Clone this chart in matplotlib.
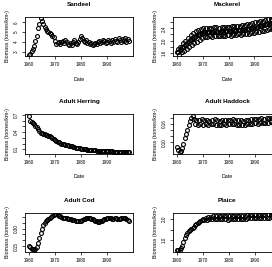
import matplotlib
matplotlib.use('Agg')
import matplotlib.pyplot as plt
import numpy as np

# ---- data ----
# half-year series, 1960.0 ... 1998.5
SANDEEL = [2.7, 2.8, 3.1, 3.3, 3.6, 4.1, 4.6, 5.4, 5.8, 6.4,
           6.1, 5.8, 5.5, 5.3, 5.1, 5.0, 4.9, 4.8, 4.6, 4.5,
           4.1, 3.8, 3.9, 4.0, 3.8, 4.0, 4.1, 3.9, 4.2, 4.0,
           3.8, 3.7, 3.9, 3.7, 4.0, 4.2, 3.9, 3.8, 4.0, 4.3,
           4.6, 4.4, 4.1, 4.0, 4.2, 3.9, 4.0, 3.8, 3.9, 3.7,
           3.8, 3.9, 3.8, 4.0, 4.1, 3.9, 4.0, 4.2, 4.1, 3.9,
           4.0, 4.2, 4.1, 3.9, 4.2, 4.0, 4.3, 4.1, 4.0, 4.4,
           4.2, 4.0, 4.3, 4.1, 4.4, 4.0, 4.3, 4.1]

HERRING = [0.68, 0.60, 0.57, 0.55, 0.54, 0.51, 0.49, 0.46, 0.42, 0.39,
           0.38, 0.36, 0.37, 0.35, 0.35, 0.33, 0.33, 0.31, 0.30, 0.28,
           0.26, 0.24, 0.23, 0.22, 0.21, 0.20, 0.195, 0.19, 0.18, 0.175,
           0.17, 0.165, 0.155, 0.15, 0.145, 0.14, 0.13, 0.125, 0.12, 0.115,
           0.11, 0.108, 0.105, 0.10, 0.098, 0.095, 0.093, 0.09, 0.088, 0.085,
           0.083, 0.081, 0.079, 0.077, 0.075, 0.073, 0.072, 0.070, 0.069, 0.068,
           0.066, 0.065, 0.064, 0.063, 0.062, 0.061, 0.060, 0.059, 0.058, 0.057,
           0.057, 0.056, 0.055, 0.055, 0.054, 0.053, 0.053, 0.052]

HADDOCK = [0.085, 0.075, 0.068, 0.072, 0.080, 0.095, 0.115, 0.128, 0.140, 0.155,
           0.170, 0.178, 0.186, 0.176, 0.160, 0.172, 0.158, 0.174, 0.160, 0.175,
           0.158, 0.172, 0.160, 0.174, 0.157, 0.171, 0.159, 0.173, 0.161, 0.175,
           0.158, 0.172, 0.156, 0.170, 0.158, 0.173, 0.160, 0.174, 0.157, 0.172,
           0.159, 0.174, 0.161, 0.175, 0.159, 0.173, 0.157, 0.172, 0.158, 0.173,
           0.156, 0.171, 0.158, 0.172, 0.160, 0.174, 0.159, 0.175, 0.161, 0.176,
           0.162, 0.177, 0.161, 0.176, 0.163, 0.178, 0.164, 0.177, 0.162, 0.178,
           0.164, 0.179, 0.165, 0.178, 0.163, 0.179, 0.165, 0.180]

COD = [0.155, 0.145, 0.130, 0.125, 0.118, 0.125, 0.140, 0.175, 0.220, 0.265,
       0.300, 0.330, 0.350, 0.365, 0.375, 0.383, 0.390, 0.398, 0.408, 0.415,
       0.420, 0.424, 0.418, 0.410, 0.403, 0.398, 0.393, 0.390, 0.388, 0.386,
       0.385, 0.383, 0.380, 0.376, 0.373, 0.370, 0.368, 0.366, 0.365, 0.366,
       0.368, 0.372, 0.377, 0.382, 0.386, 0.389, 0.390, 0.388, 0.384, 0.378,
       0.372, 0.367, 0.362, 0.359, 0.358, 0.360, 0.364, 0.370, 0.377, 0.383,
       0.387, 0.390, 0.389, 0.387, 0.384, 0.385, 0.387, 0.386, 0.383, 0.382,
       0.384, 0.387, 0.390, 0.392, 0.388, 0.380, 0.372, 0.365]

PLAICE = [0.50, 0.52, 0.52, 0.60, 0.72, 0.90, 1.10, 1.25, 1.35, 1.42,
          1.48, 1.54, 1.58, 1.64, 1.70, 1.76, 1.82, 1.88, 1.93, 1.98,
          2.02, 1.96, 2.08, 1.98, 2.12, 2.00, 2.13, 1.99, 2.15, 2.00,
          2.16, 2.01, 2.14, 1.99, 2.16, 2.02, 2.15, 2.00, 2.14, 1.98,
          2.16, 2.01, 2.17, 2.02, 2.15, 2.00, 2.16, 2.01, 2.18, 2.03,
          2.17, 2.02, 2.16, 2.03, 2.19, 2.04, 2.20, 2.05, 2.21, 2.06,
          2.22, 2.06, 2.21, 2.05, 2.22, 2.07, 2.23, 2.08, 2.22, 2.07,
          2.24, 2.08, 2.25, 2.09, 2.24, 2.10, 2.26, 2.10]

# quarterly mackerel, one row per year 1960 ... 1998
MACKEREL = [
    [1.63, 1.72, 1.64, 1.55], [1.71, 1.80, 1.72, 1.62], [1.80, 1.92, 1.81, 1.68],
    [1.87, 2.00, 1.88, 1.74], [1.94, 2.08, 1.95, 1.80], [2.01, 2.17, 2.02, 1.86],
    [2.08, 2.25, 2.09, 1.92], [2.13, 2.30, 2.14, 1.97], [2.18, 2.34, 2.19, 2.02],
    [2.23, 2.38, 2.24, 2.08], [2.26, 2.40, 2.27, 2.12], [2.27, 2.41, 2.28, 2.13],
    [2.28, 2.42, 2.29, 2.14], [2.27, 2.41, 2.28, 2.13], [2.29, 2.43, 2.30, 2.15],
    [2.30, 2.44, 2.29, 2.15], [2.28, 2.42, 2.29, 2.14], [2.30, 2.44, 2.31, 2.16],
    [2.29, 2.43, 2.30, 2.15], [2.31, 2.45, 2.32, 2.17], [2.30, 2.45, 2.31, 2.16],
    [2.32, 2.47, 2.33, 2.18], [2.33, 2.46, 2.32, 2.19], [2.34, 2.48, 2.35, 2.20],
    [2.34, 2.49, 2.35, 2.19], [2.36, 2.50, 2.35, 2.21], [2.35, 2.51, 2.36, 2.20],
    [2.38, 2.53, 2.37, 2.23], [2.39, 2.55, 2.40, 2.24], [2.41, 2.57, 2.40, 2.25],
    [2.43, 2.59, 2.42, 2.27], [2.44, 2.61, 2.45, 2.28], [2.47, 2.63, 2.46, 2.30],
    [2.49, 2.65, 2.50, 2.32], [2.52, 2.68, 2.53, 2.35], [2.54, 2.70, 2.55, 2.37],
    [2.55, 2.71, 2.56, 2.38], [2.57, 2.72, 2.58, 2.40], [2.58, 2.72, 2.59, 2.42],
]

YEAR0 = 1960
XTICKS = [1960, 1970, 1980, 1990]

# y ticks and the labels R kept (others dropped for overlap)
SANDEEL_YT = [3, 4, 5, 6]
SANDEEL_YL = ['3', '4', '5', '6']
MACKEREL_YT = [1.6, 1.8, 2.0, 2.2, 2.4, 2.6]
MACKEREL_YL = ['1.6', '', '2.0', '', '2.4', '']
HERRING_YT = [0.1, 0.2, 0.3, 0.4, 0.5, 0.6, 0.7]
HERRING_YL = ['0.1', '', '', '0.4', '', '', '0.7']
HADDOCK_YT = [0.10, 0.12, 0.14, 0.16, 0.18]
HADDOCK_YL = ['0.10', '', '', '0.16', '']
COD_YT = [0.15, 0.20, 0.25, 0.30, 0.35, 0.40]
COD_YL = ['0.15', '', '', '0.30', '', '']
PLAICE_YT = [1.0, 1.5, 2.0]
PLAICE_YL = ['1.0', '', '2.0']

# ---- layout (pixels in a 272 x 267 canvas) ----
W, H = 272, 267
COL_X = [25, 173]
ROW_TOP = [17, 114.5, 212.5]
BOX_W, BOX_H = 108, 39
PX = 72 / 100  # points per pixel

plt.rcParams['font.family'] = ['Liberation Sans', 'DejaVu Sans']


def panel(fig, col, row, title, t, y, yticks, ylabels, show_xlabel=True):
    left = COL_X[col] / W
    bottom = 1 - (ROW_TOP[row] + BOX_H) / H
    ax = fig.add_axes([left, bottom, BOX_W / W, BOX_H / H])
    ax.plot(t, y, 'o', ms=2.8, mfc='none', mec='black', mew=0.8)
    ax.margins(x=0.04, y=0.04)
    ax.set_xticks(XTICKS)
    ax.set_xticklabels([str(v) for v in XTICKS])
    ax.set_yticks(yticks)
    ax.set_yticklabels(ylabels)
    for s in ax.spines.values():
        s.set_linewidth(0.6)
    ax.tick_params(axis='both', direction='out', length=2.0, width=0.5,
                   labelsize=3.3, pad=2.6)
    for lab in ax.get_yticklabels():
        lab.set_rotation(90)
        lab.set_va('center')
        lab.set_ha('right')
    ax.annotate(title, (0.5, 1), xycoords='axes fraction',
                xytext=(0, 12.5 * PX), textcoords='offset points',
                ha='center', va='center', fontsize=4.6, fontweight='bold')
    if show_xlabel:  # bottom row's "Date" falls below the cropped canvas
        ax.annotate('Date', (0.5, 0), xycoords='axes fraction',
                    xytext=(0, -23 * PX), textcoords='offset points',
                    ha='center', va='center', fontsize=3.8)
    ax.annotate('Biomass (tonnes/km²)', (0, 0.5), xycoords='axes fraction',
                xytext=(-17 * PX, 0), textcoords='offset points',
                ha='center', va='center', rotation=90, fontsize=3.8)
    return ax


fig = plt.figure(figsize=(W / 100, H / 100), dpi=100)

t_half = YEAR0 + np.arange(len(SANDEEL)) * 0.5
t_quarter = YEAR0 + np.arange(len(MACKEREL) * 4) * 0.25
mackerel_flat = np.array(MACKEREL).ravel()

panel(fig, 0, 0, 'Sandeel', t_half, SANDEEL, SANDEEL_YT, SANDEEL_YL)
panel(fig, 1, 0, 'Mackerel', t_quarter, mackerel_flat, MACKEREL_YT, MACKEREL_YL)
panel(fig, 0, 1, 'Adult Herring', t_half, HERRING, HERRING_YT, HERRING_YL)
panel(fig, 1, 1, 'Adult Haddock', t_half, HADDOCK, HADDOCK_YT, HADDOCK_YL)
panel(fig, 0, 2, 'Adult Cod', t_half, COD, COD_YT, COD_YL, show_xlabel=False)
panel(fig, 1, 2, 'Plaice', t_half, PLAICE, PLAICE_YT, PLAICE_YL, show_xlabel=False)

fig.savefig('out.png', dpi=100)
